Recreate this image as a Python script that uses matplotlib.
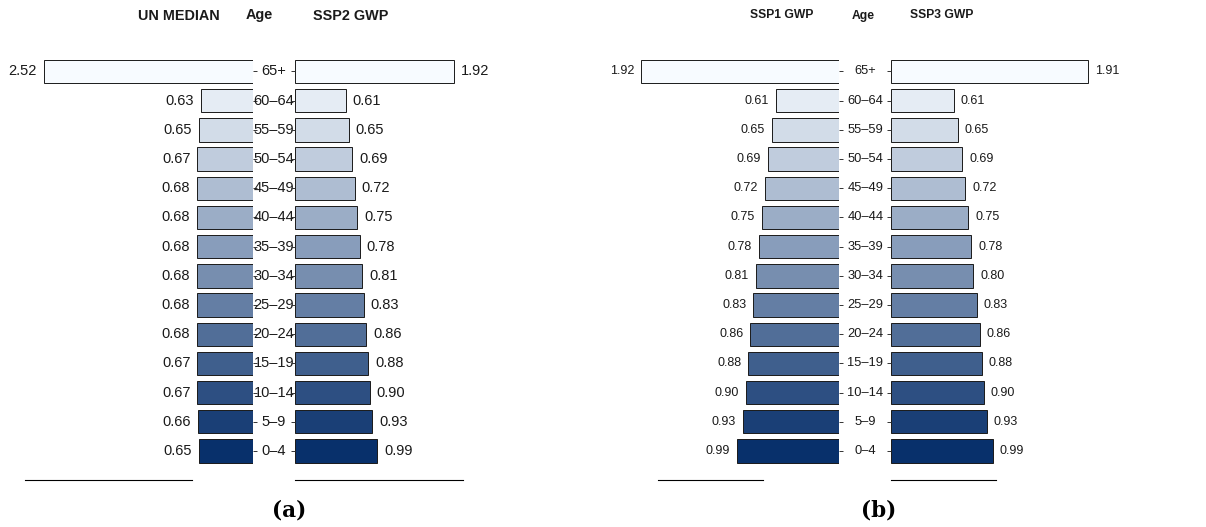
import numpy as np
import matplotlib
matplotlib.use("Agg")
import matplotlib.pyplot as plt
import matplotlib.transforms as mtransforms
from matplotlib.colors import LinearSegmentedColormap

plt.rcParams['font.family'] = ['Liberation Sans', 'DejaVu Sans']

# 年龄组（从下到上）
ages = ['0–4', '5–9', '10–14', '15–19', '20–24', '25–29', '30–34',
        '35–39', '40–44', '45–49', '50–54', '55–59', '60–64', '65+']

un_median = [0.65, 0.66, 0.67, 0.67, 0.68, 0.68, 0.68, 0.68, 0.68, 0.68, 0.67, 0.65, 0.63, 2.52]
ssp2_gwp = [0.99, 0.93, 0.90, 0.88, 0.86, 0.83, 0.81, 0.78, 0.75, 0.72, 0.69, 0.65, 0.61, 1.92]
ssp1_gwp = [0.99, 0.93, 0.90, 0.88, 0.86, 0.83, 0.81, 0.78, 0.75, 0.72, 0.69, 0.65, 0.61, 1.92]
ssp3_gwp = [0.99, 0.93, 0.90, 0.88, 0.86, 0.83, 0.80, 0.78, 0.75, 0.72, 0.69, 0.65, 0.61, 1.91]

W, H = 1206, 527
fig = plt.figure(figsize=(W / 100, H / 100), dpi=100)

cmap = LinearSegmentedColormap.from_list('blues', ['#08306B', '#F7FBFF'])
n = len(ages)
colors = [cmap(i / (n - 1)) for i in range(n)]
ypos = np.arange(n)

y_top, y_bot = 42.3, 480.2


def add_half(x0_px, xmax, width_px, values, side, bounds, fs):
    ax = fig.add_axes([x0_px / W, 1 - y_bot / H, width_px / W, (y_bot - y_top) / H])
    ax.barh(ypos, values, height=0.8, color=colors, edgecolor='#1a1a1a', linewidth=0.7)
    if side == 'left':
        ax.set_xlim(xmax, 0)
        ax.yaxis.tick_right()
        off, ha = -5, 'right'
    else:
        ax.set_xlim(0, xmax)
        ax.yaxis.tick_left()
        off, ha = 5, 'left'
    ax.set_ylim(-1, n)
    ax.set_yticks(ypos)
    ax.set_yticklabels([])
    ax.tick_params(axis='y', direction='out', length=3, width=0.7, color='#333333')
    ax.set_xticks([])
    for s in ['top', 'left', 'right']:
        ax.spines[s].set_visible(False)
    ax.spines['bottom'].set_bounds(*bounds)
    ax.spines['bottom'].set_linewidth(0.8)
    for y, v in zip(ypos, values):
        ax.annotate(f"{v:.2f}", xy=(v, y), xytext=(off, 0), textcoords='offset points',
                    ha=ha, va='center', fontsize=fs, color='#1a1a1a')
    ax.patch.set_visible(False)
    return ax


# (a) UN MEDIAN / SSP2 GWP
axa = add_half(25, 2.75, 228, un_median, 'left', (0.74, 2.75), 10.5)
add_half(295, 2.02, 167.5, ssp2_gwp, 'right', (0, 2.02), 10.5)
# (b) SSP1 GWP / SSP3 GWP
axb = add_half(638.1, 1.95, 200.9, ssp1_gwp, 'left', (0.74, 1.76), 9)
add_half(891, 1.95, 200.9, ssp3_gwp, 'right', (0, 1.02), 9)

# 年龄标签
for ax, xc, fs in [(axa, 274, 10.5), (axb, 865.5, 9.3)]:
    tr = mtransforms.blended_transform_factory(fig.transFigure, ax.transData)
    for y, lab in zip(ypos, ages):
        ax.text(xc / W, y, lab, transform=tr, ha='center', va='center',
                fontsize=fs, color='#1a1a1a')

# 标题
for xc, txt, fs in [(179, 'UN MEDIAN', 10.4), (259, 'Age', 10.4), (351, 'SSP2 GWP', 10.4),
                    (782, 'SSP1 GWP', 8.7), (863.5, 'Age', 8.7), (942, 'SSP3 GWP', 8.7)]:
    fig.text(xc / W, 1 - 15.5 / H, txt, ha='center', va='center', fontsize=fs,
             fontweight='bold', color='#1a1a1a')

# 子图编号
for xc, txt in [(289, '(a)'), (879, '(b)')]:
    fig.text(xc / W, 1 - 510 / H, txt, ha='center', va='center', fontsize=15.5,
             fontweight='bold', family='DejaVu Serif')

fig.savefig('out.png', dpi=100)
